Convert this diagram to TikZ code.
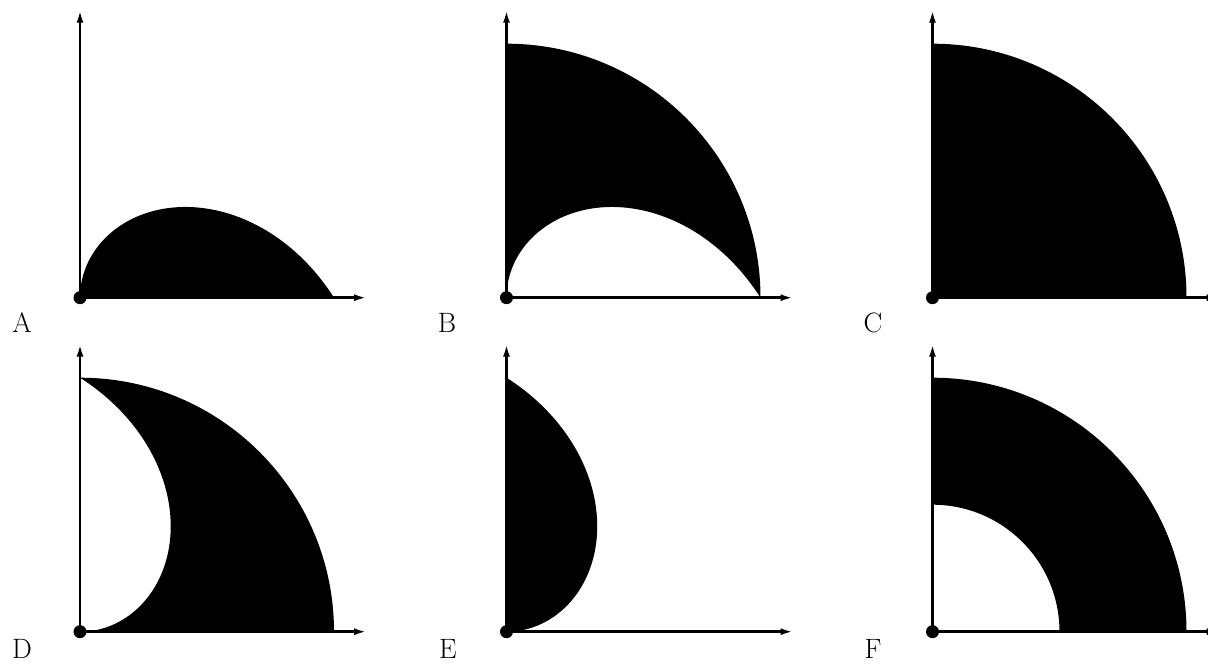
\documentclass[tikz,border=0pt]{standalone}
\usepackage{fontspec}
\usetikzlibrary{arrows.meta,calc}
\begin{document}
\begin{tikzpicture}[x=1pt,y=1pt,
  axis/.style={line width=2.6pt,-{Latex[length=13pt,width=7pt]}},
  odot/.style={circle,fill=black,inner sep=0pt,minimum size=13pt},
  lab/.style={anchor=base,inner sep=0pt,font=\fontsize{28}{32}\selectfont},
  spiralA/.style={domain=0:90,samples=150,variable=\t},
]
\useasboundingbox (0,0) rectangle (1208,665);
\def\R{254}
\def\ri{127}
% origins
\coordinate (oA) at (80,367.3);
\coordinate (oB) at (506.5,367.3);
\coordinate (oC) at (932.5,367.3);
\coordinate (oD) at (80,33.3);
\coordinate (oE) at (506.5,33.3);
\coordinate (oF) at (932.5,33.3);
% ---------- shapes ----------
% A
\begin{scope}[shift={(oA)}]
  \fill[black] plot[spiralA] ({\R*(1-\t/90)*cos(\t)},{\R*(1-\t/90)*sin(\t)}) -- cycle;
\end{scope}
% B
\begin{scope}[shift={(oB)}]
  \fill[black] (0,0) -- (0,\R) arc[start angle=90,end angle=0,radius=\R]
    -- plot[spiralA] ({\R*(1-\t/90)*cos(\t)},{\R*(1-\t/90)*sin(\t)}) -- cycle;
\end{scope}
% C
\begin{scope}[shift={(oC)}]
  \fill[black] (0,0) -- (\R,0) arc[start angle=0,end angle=90,radius=\R] -- cycle;
\end{scope}
% D
\begin{scope}[shift={(oD)}]
  \fill[black] (0,0) -- (\R,0) arc[start angle=0,end angle=90,radius=\R]
    -- plot[spiralA] ({\R*(1-\t/90)*cos(90-\t)},{\R*(1-\t/90)*sin(90-\t)}) -- cycle;
\end{scope}
% E
\begin{scope}[shift={(oE)}]
  \fill[black] plot[spiralA] ({\R*(\t/90)*cos(\t)},{\R*(\t/90)*sin(\t)}) -- cycle;
\end{scope}
% F
\begin{scope}[shift={(oF)}]
  \fill[black] (\ri,0) -- (\R,0) arc[start angle=0,end angle=90,radius=\R]
    -- (0,\ri) arc[start angle=90,end angle=0,radius=\ri] -- cycle;
\end{scope}
% ---------- axes ----------
\foreach \p in {A,B,C,D,E,F}{
  \coordinate (x\p) at ($(o\p)+(287,0)$);
  \coordinate (y\p) at ($(o\p)+(0,288)$);
  \draw[axis] (o\p) -- (x\p);
  \draw[axis] (o\p) -- (y\p);
  \node[odot] (dot\p) at (o\p) {};
}
% ---------- labels ----------
\node[lab] (labA) at (22,332) {A};
\node[lab] (labB) at (447,332) {B};
\node[lab] (labC) at (873,332) {C};
\node[lab] (labD) at (22,7) {D};
\node[lab] (labE) at (448,7) {E};
\node[lab] (labF) at (873,7) {F};
\end{tikzpicture}
\end{document}
